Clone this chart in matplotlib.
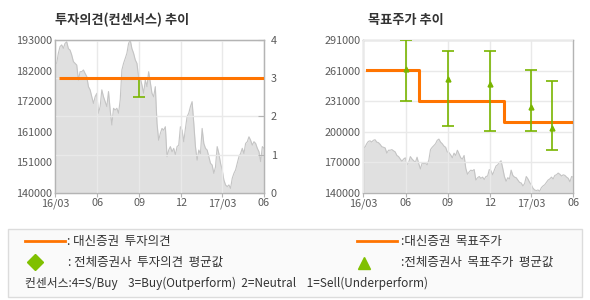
import numpy as np
import pandas as pd
import matplotlib
matplotlib.use('Agg')
import matplotlib.pyplot as plt
from matplotlib.patches import Rectangle

plt.rcParams['font.family'] = ['Noto Sans CJK KR', 'DejaVu Sans']

# 주가 (대략 3~4일 간격으로 읽은 값)
price = [185000, 184900, 188400, 190700, 191300, 190100, 191800, 192400, 190000, 189500,
         187800, 185500, 184900, 184300, 179100, 182000, 182000, 182600, 181400, 180300,
         176800, 175700, 173300, 171000, 173300, 174500, 167600, 169900, 175700, 173300,
         171600, 169900, 175100, 168700, 163500, 169300, 168700, 169300, 167600, 172200,
         182600, 184900, 186600, 188400, 191800, 193000, 190000, 188400, 186100, 184900,
         180300, 179700, 177400, 174500, 179100, 176800, 182000, 178300, 174500, 173300,
         176800, 164100, 158200, 160600, 162300, 161700, 162900, 152500, 154800, 156000,
         154200, 155400, 153100, 156000, 156500, 162900, 161700, 157700, 162300, 166400,
         167600, 169900, 171600, 164100, 156000, 151300, 154800, 153600, 162300, 157100,
         155400, 154800, 152500, 150200, 149600, 146700, 149000, 156000, 153600, 150200,
         147900, 144400, 142700, 142100, 142700, 141500, 145000, 146700, 147900, 150200,
         152500, 153600, 155400, 153600, 157100, 157700, 159400, 158200, 156500, 157700,
         157100, 155400, 154200, 150800, 156000, 155400]
price_dates = pd.date_range('2016-03-01', '2017-06-01', periods=len(price))

# 투자의견
opinion_start = '2016-03-10'
opinion_end = '2017-06-01'
opinion_value = 3
opinion_avg_dates = ['2016-09-01']
opinion_avg = [3.0]
opinion_low = [2.5]
opinion_high = [3.0]

# 목표주가 (대신증권)
target_dates = ['2016-03-10', '2016-07-01', '2017-01-01', '2017-05-28']
target_values = [261000, 231000, 210000, 210000]

# 전체증권사 목표주가 평균값
cons_dates = ['2016-06-01', '2016-09-01', '2016-12-01', '2017-03-01', '2017-04-15']
cons_avg = [262000, 252000, 247000, 225000, 204000]
cons_low = [231000, 206000, 201000, 201000, 182000]
cons_high = [291000, 280000, 280000, 261000, 250000]

xtick_dates = ['2016-03-01', '2016-06-01', '2016-09-01', '2016-12-01', '2017-03-01', '2017-06-01']
xtick_labels = ['16/03', '06', '09', '12', '17/03', '06']
left_ylabels = ['140000', '151000', '161000', '172000', '182000', '193000']
right_ylabels = ['140000', '170000', '200000', '231000', '261000', '291000']
opinion_ticks = [0, 1, 2, 3, 4]

ORANGE = '#ff7400'
GREEN = '#79b500'
FILL = '#e0e0e0'
EDGE = '#c4c4c4'
GRID = '#e9e9e9'
SPINE = '#b4b4b4'
TXT = '#5a5a5a'

W, H = 590, 300
fig = plt.figure(figsize=(W / 100, H / 100), dpi=100)


def px_axes(x0, y0, x1, y1):
    return fig.add_axes([x0 / W, 1 - y1 / H, (x1 - x0) / W, (y1 - y0) / H])


def style_axes(ax):
    for s in ax.spines.values():
        s.set_color(SPINE)
        s.set_linewidth(1)
    ax.tick_params(axis='y', length=0, labelsize=7.8, labelcolor=TXT, pad=2)
    ax.tick_params(axis='x', length=3, color=SPINE, labelsize=7.8, labelcolor=TXT, pad=1)


xt = pd.to_datetime(xtick_dates)
xlim = (xt[0], xt[-1])

# ---- 투자의견(컨센서스) 추이
ax1 = px_axes(55, 40, 264, 192.7)
ax1.fill_between(price_dates, price, 140000, color=FILL, lw=0)
ax1.plot(price_dates, price, color=EDGE, lw=0.8)
ax1.set_xlim(xlim)
ax1.set_ylim(140000, 193000)
ax1.set_yticks(np.linspace(140000, 193000, 6))
ax1.set_yticklabels(left_ylabels)
ax1.set_xticks(xt)
ax1.set_xticklabels(xtick_labels)
ax1.set_axisbelow(False)
ax1.grid(axis='x', color=GRID, lw=1)
style_axes(ax1)

ax1r = ax1.twinx()
ax1r.set_ylim(0, 4)
ax1r.set_yticks(opinion_ticks)
ax1r.grid(axis='y', color=GRID, lw=1)
ax1r.hlines(opinion_value, pd.Timestamp(opinion_start), pd.Timestamp(opinion_end),
            color=ORANGE, lw=2.2, zorder=4)
od = pd.to_datetime(opinion_avg_dates)
oa = np.array(opinion_avg)
ax1r.errorbar(od, oa, yerr=[oa - np.array(opinion_low), np.array(opinion_high) - oa],
              fmt='none', ecolor=GREEN, elinewidth=1.2, capsize=4, capthick=1.2, zorder=3)
for s in ax1r.spines.values():
    s.set_color(SPINE)
ax1r.tick_params(axis='y', direction='in', length=4, color=SPINE, labelsize=7.8,
                 labelcolor=TXT, pad=5)
ax1r.set_xlim(xlim)

fig.text(55 / W, 1 - 20 / H, '투자의견(컨센서스) 추이', fontsize=9.5, fontweight='bold',
         color='#333333', va='center')

# ---- 목표주가 추이
ax2 = px_axes(363.3, 40, 573.3, 192.7)
ax2.fill_between(price_dates, price, 140000, color=FILL, lw=0)
ax2.plot(price_dates, price, color=EDGE, lw=0.8)
ax2.set_xlim(xlim)
ax2.set_ylim(140000, 291000)
ax2.set_yticks(np.linspace(140000, 291000, 6))
ax2.set_yticklabels(right_ylabels)
ax2.set_xticks(xt)
ax2.set_xticklabels(xtick_labels)
ax2.set_axisbelow(False)
ax2.grid(color=GRID, lw=1)
style_axes(ax2)

ax2.step(pd.to_datetime(target_dates), target_values, where='post', color=ORANGE,
         lw=2.2, zorder=3)
cd = pd.to_datetime(cons_dates)
ca = np.array(cons_avg)
ax2.errorbar(cd, ca, yerr=[ca - np.array(cons_low), np.array(cons_high) - ca],
             fmt='none', ecolor=GREEN, elinewidth=1.2, capsize=4, capthick=1.2, zorder=4)
ax2.plot(cd, ca, '^', color=GREEN, ms=3.5, zorder=5)

fig.text(367.7 / W, 1 - 20 / H, '목표주가 추이', fontsize=9.5, fontweight='bold',
         color='#333333', va='center')

# ---- 범례
lg = px_axes(0, 0, W, H)
lg.set_xlim(0, W)
lg.set_ylim(H, 0)
lg.axis('off')
lg.add_patch(Rectangle((8, 229), 574, 68, facecolor='#fafafa', edgecolor='#dcdcdc', lw=1))
lg.plot([25, 65], [241, 241], color=ORANGE, lw=2)
lg.plot([357, 397], [241, 241], color=ORANGE, lw=2)
lg.plot([35], [262], 'D', color='#80c000', ms=8)
lg.plot([364], [263], '^', color='#80c000', ms=8)
fs = 9
lg.text(67, 241, ': 대신증권  투자의견', fontsize=fs, color='#333333', va='center')
lg.text(401, 241, ':대신증권  목표주가', fontsize=fs, color='#333333', va='center')
lg.text(68, 262, ': 전체증권사  투자의견  평균값', fontsize=fs, color='#333333', va='center')
lg.text(401, 262, ':전체증권사  목표주가  평균값', fontsize=fs, color='#333333', va='center')
lg.text(25, 283, '컨센서스:4=S/Buy    3=Buy(Outperform)  2=Neutral    1=Sell(Underperform)',
        fontsize=8.5, color='#333333', va='center')

fig.savefig('out.png', dpi=100)
